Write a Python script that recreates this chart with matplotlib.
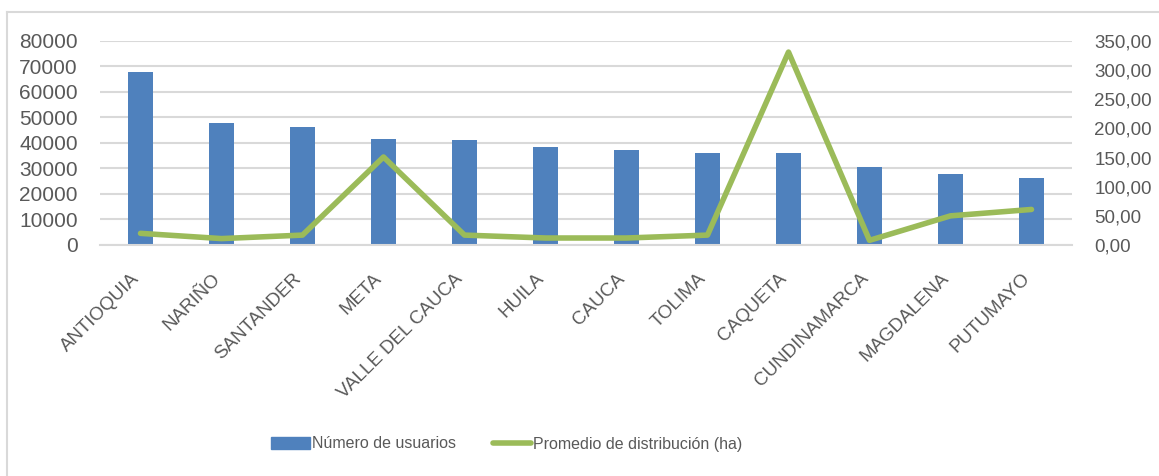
import matplotlib.pyplot as plt
from matplotlib.patches import Patch
from matplotlib.lines import Line2D
from matplotlib.transforms import ScaledTranslation
import numpy as np

plt.rcParams['font.family'] = ['Liberation Sans', 'DejaVu Sans']

departamentos = ["ANTIOQUIA", "NARIÑO", "SANTANDER", "META", "VALLE DEL CAUCA", "HUILA",
                 "CAUCA", "TOLIMA", "CAQUETA", "CUNDINAMARCA", "MAGDALENA", "PUTUMAYO"]
usuarios = [68000, 47900, 46400, 41700, 41000, 38500, 37300, 36000, 35900, 30700, 27700, 26300]
promedio = [20, 11, 17, 151, 17, 12, 12, 17, 331, 8, 50, 61]

bar_color = '#4F81BD'
line_color = '#9BBB59'
txt = '#595959'

fig = plt.figure(figsize=(11.59, 4.76), dpi=100)
ax = fig.add_axes([100/1159, 1-245/476, 972/1159, 204/476])
x = np.arange(len(departamentos))
ax.bar(x, usuarios, width=0.31, color=bar_color, zorder=2)
ax.set_xlim(-0.5, len(departamentos)-0.5)
ax.set_ylim(0, 80000)
ax.set_yticks(range(0, 80001, 10000))
ax.grid(axis='y', color='#D9D9D9', linewidth=1.5, zorder=0)
for s in ['top', 'right', 'left']:
    ax.spines[s].set_visible(False)
ax.spines['bottom'].set_color('#D9D9D9')
ax.spines['bottom'].set_linewidth(1.5)
ax.tick_params(axis='y', length=0, labelsize=15, colors=txt, pad=16)
ax.tick_params(axis='x', length=0, labelsize=13.5, colors=txt, pad=8)
ax.set_xticks(x)
ax.set_xticklabels(departamentos, rotation=45, ha='right', va='top', rotation_mode='anchor')
offset = ScaledTranslation(-10/100, -14/100, fig.dpi_scale_trans)
for lab in ax.get_xticklabels():
    lab.set_transform(lab.get_transform() + offset)

ax2 = ax.twinx()
ax2.plot(x, promedio, color=line_color, linewidth=4, solid_capstyle='round', zorder=3)
ax2.set_ylim(0, 350)
ax2.set_yticks(range(0, 351, 50))
ax2.set_yticklabels([f"{v},00" for v in range(0, 351, 50)])
for s in ['top', 'right', 'left', 'bottom']:
    ax2.spines[s].set_visible(False)
ax2.tick_params(axis='y', length=0, labelsize=13.5, colors=txt, pad=16)

handles = [Patch(color=bar_color), Line2D([0], [0], color=line_color, linewidth=4, solid_capstyle='round')]
fig.legend(handles, ["Número de usuarios", "Promedio de distribución (ha)"],
           loc='center', bbox_to_anchor=(507/1159, 1-444/476), ncol=2, frameon=False,
           fontsize=11.5, labelcolor=txt, handlelength=2.4, handletextpad=0.15, columnspacing=2.3)

# chart border (top and left edges only visible)
fig.add_artist(Line2D([7/1159, 1], [1-12/476, 1-12/476], transform=fig.transFigure,
                      color='#D9D9D9', linewidth=1.5))
fig.add_artist(Line2D([7/1159, 7/1159], [0, 1-12/476], transform=fig.transFigure,
                      color='#D9D9D9', linewidth=1.5))

fig.savefig('out.png', dpi=100)
